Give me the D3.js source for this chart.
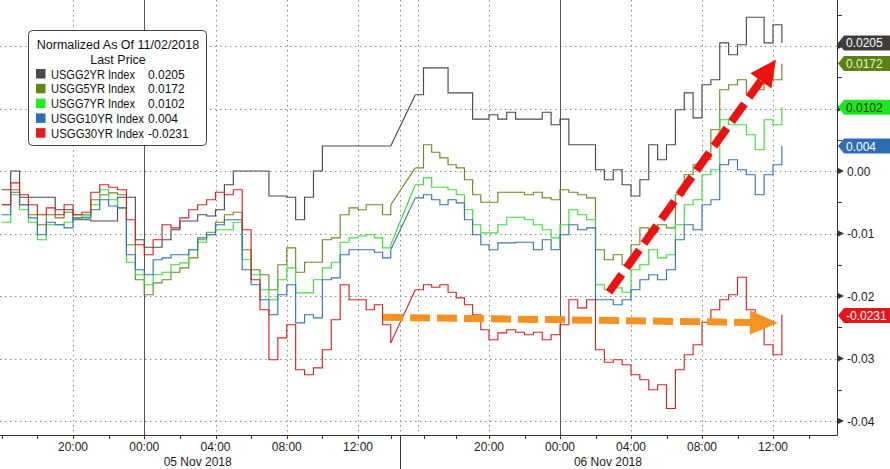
<!DOCTYPE html>
<html><head><meta charset="utf-8">
<script src="https://cdn.jsdelivr.net/npm/d3@7"></script>
<style>
body{margin:0;background:#fff}
svg{display:block}
text{font-family:"Liberation Sans",Arial,sans-serif}
</style>
</head><body>
<svg id="chart" width="890" height="469"></svg>
<script>
// sample times: hours since 16:00, 04 Nov 2018 (half-hour samples)
const times = d3.range(0, 44.51, 0.5);

const usgg2yr = [
-0.0030,0.0000,-0.0042,-0.0042,-0.0042,-0.0042,-0.0062,-0.0062,-0.0078,-0.0078,
-0.0080,-0.0080,-0.0080,-0.0042,-0.0042,-0.0110,-0.0122,-0.0122,-0.0110,-0.0094,
-0.0080,-0.0080,-0.0070,-0.0072,-0.0062,-0.0022,0.0000,0.0000,0.0000,0.0000,
-0.0040,-0.0040,-0.0042,-0.0078,-0.0042,0.0000,0.0040,0.0040,0.0040,0.0040,
0.0040,0.0040,0.0040,0.0040,0.0040,null,null,0.0122,0.0165,0.0165,
0.0165,0.0125,0.0125,0.0125,0.0083,0.0083,0.0090,0.0083,0.0094,0.0083,
0.0083,0.0083,0.0094,0.0074,0.0083,0.0042,0.0042,0.0042,0.0002,-0.0014,
0.0002,-0.0022,-0.0040,-0.0014,0.0042,0.0018,0.0042,0.0098,0.0125,0.0085,
0.0138,0.0146,0.0205,0.0186,0.0202,0.0246,0.0246,0.0205,0.0234,0.0205];

const usgg5yr = [
-0.0054,-0.0030,-0.0054,-0.0070,-0.0086,-0.0070,-0.0075,-0.0066,-0.0070,-0.0070,
-0.0046,-0.0038,-0.0035,-0.0038,-0.0118,-0.0174,-0.0198,-0.0179,-0.0174,-0.0162,
-0.0155,-0.0139,-0.0110,-0.0098,-0.0082,-0.0070,-0.0066,-0.0126,-0.0158,-0.0166,
-0.0190,-0.0150,-0.0123,-0.0162,-0.0146,-0.0146,-0.0110,-0.0107,-0.0070,-0.0059,
-0.0062,-0.0054,-0.0054,-0.0070,-0.0054,null,null,0.0005,0.0042,0.0030,
0.0021,0.0010,0.0005,-0.0014,-0.0038,-0.0050,-0.0050,-0.0034,-0.0034,-0.0034,
-0.0038,-0.0034,-0.0043,-0.0046,-0.0030,-0.0034,-0.0038,-0.0043,-0.0126,-0.0142,
-0.0134,-0.0150,-0.0118,-0.0091,-0.0098,-0.0086,-0.0091,-0.0038,-0.0006,0.0010,
0.0018,0.0066,0.0130,0.0138,0.0146,0.0122,0.0130,0.0154,0.0146,0.0172];

const usgg7yr = [
-0.0082,-0.0038,-0.0062,-0.0082,-0.0110,-0.0086,-0.0086,-0.0082,-0.0075,-0.0072,
-0.0054,-0.0030,-0.0046,-0.0059,-0.0146,-0.0166,-0.0182,-0.0166,-0.0162,-0.0150,
-0.0147,-0.0126,-0.0114,-0.0102,-0.0094,-0.0094,-0.0082,-0.0142,-0.0166,-0.0190,
-0.0206,-0.0174,-0.0155,-0.0195,-0.0195,-0.0174,-0.0155,-0.0146,-0.0114,-0.0107,
-0.0104,-0.0102,-0.0107,-0.0123,-0.0118,null,null,-0.0022,-0.0011,-0.0026,
-0.0026,-0.0030,-0.0038,-0.0062,-0.0086,-0.0099,-0.0099,-0.0086,-0.0074,-0.0074,
-0.0078,-0.0086,-0.0094,-0.0107,-0.0086,-0.0062,-0.0070,-0.0078,-0.0182,-0.0190,
-0.0187,-0.0194,-0.0158,-0.0150,-0.0126,-0.0139,-0.0134,-0.0086,-0.0054,-0.0046,
-0.0006,0.0002,0.0082,0.0074,0.0074,0.0058,0.0034,0.0082,0.0074,0.0102];

const usgg10yr = [
-0.0070,-0.0034,-0.0054,-0.0075,-0.0102,-0.0082,-0.0086,-0.0091,-0.0075,-0.0075,
-0.0062,-0.0046,-0.0056,-0.0059,-0.0134,-0.0158,-0.0166,-0.0142,-0.0139,-0.0134,
-0.0134,-0.0126,-0.0107,-0.0102,-0.0086,-0.0078,-0.0078,-0.0158,-0.0182,-0.0206,
-0.0230,-0.0198,-0.0182,-0.0243,-0.0230,-0.0235,-0.0174,-0.0171,-0.0134,-0.0126,
-0.0126,-0.0126,-0.0130,-0.0139,-0.0126,null,null,-0.0043,-0.0038,-0.0046,
-0.0054,-0.0046,-0.0051,-0.0078,-0.0102,-0.0118,-0.0126,-0.0115,-0.0115,-0.0114,
-0.0114,-0.0126,-0.0110,-0.0126,-0.0102,-0.0086,-0.0094,-0.0091,-0.0206,-0.0206,
-0.0214,-0.0206,-0.0190,-0.0174,-0.0166,-0.0174,-0.0158,-0.0110,-0.0086,-0.0094,
-0.0054,-0.0046,0.0010,0.0018,0.0002,-0.0006,-0.0038,-0.0006,0.0010,0.0040];

const usgg30yr = [
-0.0054,-0.0019,-0.0038,-0.0054,-0.0070,-0.0059,-0.0070,-0.0054,-0.0070,-0.0066,
-0.0034,-0.0022,-0.0026,-0.0030,-0.0078,-0.0118,-0.0134,-0.0110,-0.0086,-0.0091,
-0.0075,-0.0062,-0.0054,-0.0046,-0.0034,-0.0038,-0.0030,-0.0094,-0.0174,-0.0222,
-0.0302,-0.0267,-0.0246,-0.0318,-0.0326,-0.0315,-0.0286,-0.0238,-0.0182,-0.0206,
-0.0206,-0.0222,-0.0214,-0.0246,-0.0275,null,null,-0.0190,-0.0182,-0.0186,
-0.0182,-0.0194,-0.0203,-0.0214,-0.0230,-0.0254,-0.0270,-0.0259,-0.0254,-0.0258,
-0.0262,-0.0258,-0.0270,-0.0262,-0.0246,-0.0206,-0.0219,-0.0206,-0.0286,-0.0306,
-0.0302,-0.0310,-0.0326,-0.0334,-0.0350,-0.0342,-0.0380,-0.0318,-0.0294,-0.0278,
-0.0242,-0.0222,-0.0206,-0.0198,-0.0170,-0.0222,-0.0246,-0.0278,-0.0294,-0.0230];

const seriesNames = ["USGG2YR Index","USGG5YR Index","USGG7YR Index","USGG10YR Index","USGG30YR Index"];
const lastPrices = ["0.0205","0.0172","0.0102","0.004","-0.0231"];
const lastValues = [0.0205,0.0172,0.0102,0.004,-0.0231];
const legendTitle = ["Normalized As Of 11/02/2018","Last Price"];

const timeTicks = [4,8,12,16,20,28,32,36,40,44];
const timeTickLabels = ["20:00","00:00","04:00","08:00","12:00","20:00","00:00","04:00","08:00","12:00"];
const minorTimeTicks = [0,2,4,6,8,10,12,14,16,18,20,22,24,26,28,30,32,34,36,38,40,42,44,46];
const dayBreaks = [8,32];
const sessionBreaks = [22.56,23.66];
const dateLabels = ["05 Nov 2018","06 Nov 2018"];
const dateLabelTimes = [11.0,34.7];
const yTicks = [0.02,0.01,0,-0.01,-0.02,-0.03,-0.04];
const yLabelTicks = [0,-0.01,-0.02,-0.03,-0.04];
const yTickLabels = ["0.00","-0.01","-0.02","-0.03","-0.04"];
const yMinorTicks = [0.025,0.015,0.005,-0.005,-0.015,-0.025,-0.035];

// annotation arrows (time in hours, value)
const upArrow = {from:[34.76,-0.0194], to:[44.17,0.0178]};
const flatArrow = {from:[21.53,-0.0234], to:[44.28,-0.0243]};

const lineColors = ["#4b4b4b","#6a8c1e","#3ade3a","#3a74b0","#d82323"];
const swatchColors = ["#4a4a4a","#5d8a14","#1fee1f","#2e6db4","#e51a1a"];
const tagFill = ["#3d3d3d","#5a8216","#20e620","#2f6db2","#e8141c"];
const tagText = ["#ffffff","#e2f7c4","#063806","#ffffff","#ffffff"];

const svg = d3.select("#chart");
const plotRight = 837, plotBottom = 435;

const x = d3.scaleLinear().domain([4,20,28,44]).range([73,358,489,773]);
const y = d3.scaleLinear().domain([0,-0.04]).range([171,421]);

// gridlines
const grid = svg.append("g");
grid.selectAll("line.h").data(yTicks).join("line")
  .attr("x1",0).attr("x2",plotRight)
  .attr("y1",d=>Math.round(y(d))+0.5).attr("y2",d=>Math.round(y(d))+0.5)
  .attr("stroke","#8a8a8a").attr("stroke-width",1).attr("stroke-dasharray","1.5,3.5");
grid.selectAll("line.v").data(timeTicks.filter(t=>!dayBreaks.includes(t)).concat(sessionBreaks)).join("line")
  .attr("x1",d=>Math.round(x(d))+0.5).attr("x2",d=>Math.round(x(d))+0.5)
  .attr("y1",0).attr("y2",plotBottom)
  .attr("stroke","#8a8a8a").attr("stroke-width",1).attr("stroke-dasharray","1.5,3.5");
grid.selectAll("line.d").data(dayBreaks).join("line")
  .attr("x1",d=>Math.round(x(d))+0.5).attr("x2",d=>Math.round(x(d))+0.5)
  .attr("y1",0).attr("y2",plotBottom)
  .attr("stroke","#555").attr("stroke-width",1);

// series
const allSeries = [usgg2yr,usgg5yr,usgg7yr,usgg10yr,usgg30yr];
const lineGen = d3.line().defined(d=>d[1]!=null).x(d=>x(d[0])).y(d=>y(d[1])).curve(d3.curveStepAfter);
const gapGen = d3.line().x(d=>x(d[0])).y(d=>y(d[1]));
allSeries.forEach((vals,si)=>{
  const pts = times.map((t,i)=>[t,vals[i]]);
  svg.append("path").attr("d",lineGen(pts)).attr("fill","none")
    .attr("stroke",lineColors[si]).attr("stroke-width",1.15);
  // straight connectors across missing data
  for(let i=1;i<pts.length;i++){
    if(pts[i][1]==null && pts[i-1][1]!=null){
      let j=i; while(j<pts.length && pts[j][1]==null) j++;
      if(j<pts.length){
        svg.append("path").attr("d",gapGen([pts[i-1],pts[j]])).attr("fill","none")
          .attr("stroke",lineColors[si]).attr("stroke-width",1.15);
      }
    }
  }
});

// annotation arrows
function drawArrow(a,color,dash,width,headLen,headHalf){
  const x0=x(a.from[0]),y0=y(a.from[1]),x1=x(a.to[0]),y1=y(a.to[1]);
  const dx=x1-x0,dy=y1-y0,L=Math.hypot(dx,dy),ux=dx/L,uy=dy/L;
  const bx=x1-ux*headLen,by=y1-uy*headLen;
  svg.append("line").attr("x1",x0).attr("y1",y0).attr("x2",bx).attr("y2",by)
    .attr("stroke",color).attr("stroke-width",width).attr("stroke-dasharray",dash);
  svg.append("polygon").attr("points",[[x1,y1],[bx-uy*headHalf,by+ux*headHalf],[bx+uy*headHalf,by-ux*headHalf]].map(p=>p.join(",")).join(" "))
    .attr("fill",color);
}
drawArrow(flatArrow,"#f7911f","20,7",7,28,12);
drawArrow(upArrow,"#ee1111","22,8",8,26,13);

// legend
const lg = svg.append("g");
lg.append("rect").attr("x",28.5).attr("y",30.5).attr("width",178).attr("height",115).attr("rx",4)
  .attr("fill","#fff").attr("stroke","#444").attr("stroke-width",1);
lg.selectAll("text.t").data(legendTitle).join("text")
  .attr("x",118).attr("y",(d,i)=>49+i*15).attr("text-anchor","middle")
  .attr("font-size",12.5).attr("fill","#111").text(d=>d);
seriesNames.forEach((n,i)=>{
  const cy = 74+i*14.8;
  lg.append("rect").attr("x",36).attr("y",cy-5).attr("width",9.5).attr("height",9.5).attr("fill",swatchColors[i]);
  lg.append("text").attr("x",51).attr("y",cy+4.5).attr("font-size",12).attr("fill","#111")
    .attr("textLength",n.length>13?93:84).attr("lengthAdjust","spacingAndGlyphs").text(n);
  lg.append("text").attr("x",148).attr("y",cy+4.5).attr("font-size",12).attr("fill","#111").text(lastPrices[i]);
});

// axes
const ax = svg.append("g");
ax.append("line").attr("x1",0).attr("x2",plotRight+0.5).attr("y1",plotBottom+0.5).attr("y2",plotBottom+0.5).attr("stroke","#333");
ax.append("line").attr("x1",plotRight+0.5).attr("x2",plotRight+0.5).attr("y1",0).attr("y2",plotBottom+0.5).attr("stroke","#333");
ax.selectAll("line.mt").data(minorTimeTicks).join("line")
  .attr("x1",d=>Math.round(x(d))+0.5).attr("x2",d=>Math.round(x(d))+0.5)
  .attr("y1",plotBottom).attr("y2",plotBottom+4).attr("stroke","#333");
ax.selectAll("line.sep").data([sessionBreaks[0]]).join("line")
  .attr("x1",d=>Math.round(x(d))+0.5).attr("x2",d=>Math.round(x(d))+0.5)
  .attr("y1",plotBottom).attr("y2",469).attr("stroke","#333");
ax.selectAll("text.tl").data(timeTicks).join("text")
  .attr("x",d=>x(d)).attr("y",451).attr("text-anchor","middle").attr("font-size",12).attr("fill","#222")
  .text((d,i)=>timeTickLabels[i]);
ax.selectAll("text.dl").data(dateLabelTimes).join("text")
  .attr("x",d=>x(d)).attr("y",466).attr("text-anchor","middle").attr("font-size",12).attr("fill","#222")
  .text((d,i)=>dateLabels[i]);
// right axis ticks
ax.selectAll("line.ym").data(yMinorTicks).join("line")
  .attr("x1",plotRight).attr("x2",plotRight+5)
  .attr("y1",d=>Math.round(y(d))+0.5).attr("y2",d=>Math.round(y(d))+0.5).attr("stroke","#333");
ax.selectAll("polygon.yt").data(yTicks).join("polygon")
  .attr("points",d=>{const yy=y(d);return `${plotRight+1},${yy-3} ${plotRight+7},${yy} ${plotRight+1},${yy+3}`;})
  .attr("fill","#333");
ax.selectAll("text.yl").data(yLabelTicks).join("text")
  .attr("x",plotRight+10).attr("y",d=>y(d)+4.5).attr("font-size",12).attr("fill","#222")
  .text((d,i)=>yTickLabels[i]);

// last-value tags
lastValues.forEach((v,i)=>{
  const yy=y(v);
  svg.append("polygon").attr("points",
    `${plotRight+1},${yy} ${plotRight+7},${yy-7.5} 892,${yy-7.5} 892,${yy+7.5} ${plotRight+7},${yy+7.5}`)
    .attr("fill",tagFill[i]);
  svg.append("text").attr("x",plotRight+9).attr("y",yy+4.5).attr("font-size",12).attr("fill",tagText[i]).text(lastPrices[i]);
});
</script>
</body></html>
